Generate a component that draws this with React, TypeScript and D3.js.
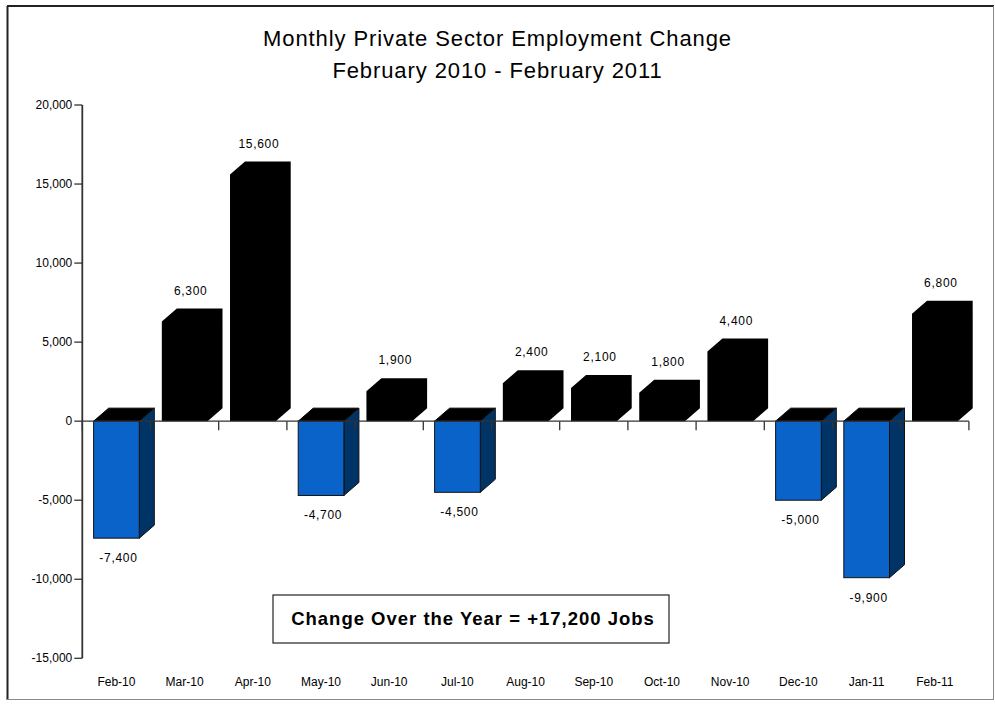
import { useEffect, useRef } from 'react';
import * as d3 from 'd3';

// Chart data
const months = [
  'Feb-10', 'Mar-10', 'Apr-10', 'May-10', 'Jun-10', 'Jul-10', 'Aug-10',
  'Sep-10', 'Oct-10', 'Nov-10', 'Dec-10', 'Jan-11', 'Feb-11',
];
const changes = [
  -7400, 6300, 15600, -4700, 1900, -4500, 2400, 2100, 1800, 4400, -5000, -9900, 6800,
];
const yTicks = [20000, 15000, 10000, 5000, 0, -5000, -10000, -15000];
const titleLines = [
  'Monthly Private Sector Employment Change',
  'February 2010 - February 2011',
];
const noteText = 'Change Over the Year = +17,200 Jobs';

const FONT = '"Liberation Sans", Arial, sans-serif';

export default function App() {
  const svgRef = useRef<SVGSVGElement | null>(null);

  const W = 995;
  const H = 707;
  // plot area
  const left = 82.3;
  const right = 968.9;
  const top = 105;
  const bottom = 658.3;
  // 3d depth
  const dx = 15;
  const dy = 13;

  useEffect(() => {
    const svg = d3.select(svgRef.current);
    svg.selectAll('*').remove();

    const fmt = (v: number) => d3.format(',')(v).replace('\u2212', '-');

    const x = d3.scaleBand<string>().domain(months).range([left, right]).padding(0);
    const y = d3.scaleLinear().domain([-15000, 20000]).range([bottom, top]);
    const y0 = y(0);
    const bw = x.bandwidth();
    const off = bw * 0.166;
    const fw = bw * 0.67;

    svg.append('rect').attr('width', W).attr('height', H).attr('fill', '#fff');

    // frame (3d-ish border)
    svg.append('line').attr('x1', 7).attr('x2', 994).attr('y1', 6).attr('y2', 6)
      .attr('stroke', '#222').attr('stroke-width', 2);
    svg.append('line').attr('x1', 7.5).attr('x2', 7.5).attr('y1', 6).attr('y2', 700)
      .attr('stroke', '#222').attr('stroke-width', 2);
    svg.append('line').attr('x1', 993.5).attr('x2', 993.5).attr('y1', 6).attr('y2', 700)
      .attr('stroke', '#8a8a8a').attr('stroke-width', 1);
    svg.append('line').attr('x1', 7).attr('x2', 994).attr('y1', 699.5).attr('y2', 699.5)
      .attr('stroke', '#8a8a8a').attr('stroke-width', 1);

    // title
    svg.append('g')
      .selectAll('text')
      .data(titleLines)
      .enter()
      .append('text')
      .attr('x', W / 2)
      .attr('y', (_, i) => 46 + i * 32)
      .attr('text-anchor', 'middle')
      .style('font-family', FONT)
      .style('font-size', '22px')
      .style('letter-spacing', '0.9px')
      .attr('fill', '#000')
      .text((d) => d);

    const bars = svg.append('g');
    months.forEach((m, i) => {
      const v = changes[i];
      const x0 = (x(m) as number) + off;
      const x1 = x0 + fw;
      const yv = y(v);
      if (v >= 0) {
        // front + top + side as one black solid
        const pts = [
          [x0, y0], [x0, yv], [x0 + dx, yv - dy], [x1 + dx, yv - dy],
          [x1 + dx, y0 - dy], [x1, y0],
        ];
        bars.append('polygon')
          .attr('points', pts.map((p) => p.join(',')).join(' '))
          .attr('fill', '#000');
      } else {
        // top cap at zero
        bars.append('polygon')
          .attr('points', [[x0, y0], [x0 + dx, y0 - dy], [x1 + dx, y0 - dy], [x1, y0]]
            .map((p) => p.join(',')).join(' '))
          .attr('fill', '#000').attr('stroke', '#000').attr('stroke-width', 1);
        // side
        bars.append('polygon')
          .attr('points', [[x1, y0], [x1 + dx, y0 - dy], [x1 + dx, yv - dy], [x1, yv]]
            .map((p) => p.join(',')).join(' '))
          .attr('fill', '#003366').attr('stroke', '#111').attr('stroke-width', 1);
        // front
        bars.append('rect')
          .attr('x', x0).attr('y', y0).attr('width', fw).attr('height', yv - y0)
          .attr('fill', '#0a63c9').attr('stroke', '#111').attr('stroke-width', 1);
      }
    });

    // value labels
    svg.append('g')
      .selectAll('text')
      .data(changes)
      .enter()
      .append('text')
      .attr('x', (d, i) => (x(months[i]) as number) + off + fw / 2 + (d >= 0 ? 6 : 2))
      .attr('y', (d) => (d >= 0 ? y(d) - dy - 14 : y(d) + 24))
      .attr('text-anchor', 'middle')
      .style('font-family', FONT)
      .style('font-size', '12px')
      .style('letter-spacing', '0.7px')
      .attr('fill', '#000')
      .text((d) => fmt(d));

    // zero line + category ticks
    const axisG = svg.append('g').attr('stroke', '#333').attr('stroke-width', 1.3);
    axisG.append('line').attr('x1', left).attr('x2', right).attr('y1', y0).attr('y2', y0);
    axisG.selectAll('.xt')
      .data(d3.range(months.length + 1))
      .enter()
      .append('line')
      .attr('class', 'xt')
      .attr('x1', (d) => left + d * bw)
      .attr('x2', (d) => left + d * bw)
      .attr('y1', y0)
      .attr('y2', y0 + 9);

    // y axis
    axisG.append('line').attr('x1', left).attr('x2', left).attr('y1', top).attr('y2', bottom)
      .attr('stroke-width', 1.8);
    axisG.selectAll('.yt')
      .data(yTicks)
      .enter()
      .append('line')
      .attr('class', 'yt')
      .attr('x1', left - 8)
      .attr('x2', left)
      .attr('y1', (d) => y(d))
      .attr('y2', (d) => y(d));

    svg.append('g')
      .selectAll('text')
      .data(yTicks)
      .enter()
      .append('text')
      .attr('x', left - 10)
      .attr('y', (d) => y(d) + 4)
      .attr('text-anchor', 'end')
      .style('font-family', FONT)
      .style('font-size', '12px')
      .attr('fill', '#000')
      .text((d) => fmt(d));

    // x labels
    svg.append('g')
      .selectAll('text')
      .data(months)
      .enter()
      .append('text')
      .attr('x', (d) => (x(d) as number) + bw / 2)
      .attr('y', 686)
      .attr('text-anchor', 'middle')
      .style('font-family', FONT)
      .style('font-size', '12px')
      .attr('fill', '#000')
      .text((d) => d);

    // annotation box
    svg.append('rect')
      .attr('x', 273).attr('y', 595).attr('width', 396).attr('height', 48)
      .attr('fill', '#fff').attr('stroke', '#333').attr('stroke-width', 1.3);
    svg.append('text')
      .attr('x', 473).attr('y', 625)
      .attr('text-anchor', 'middle')
      .style('font-family', FONT)
      .style('font-size', '18.5px')
      .style('font-weight', 'bold')
      .style('letter-spacing', '1px')
      .attr('fill', '#000')
      .text(noteText);
  }, []);

  return (
    <div style={{ position: 'absolute', left: 0, top: 0 }}>
      <svg ref={svgRef} width={W} height={H}></svg>
    </div>
  );
}
